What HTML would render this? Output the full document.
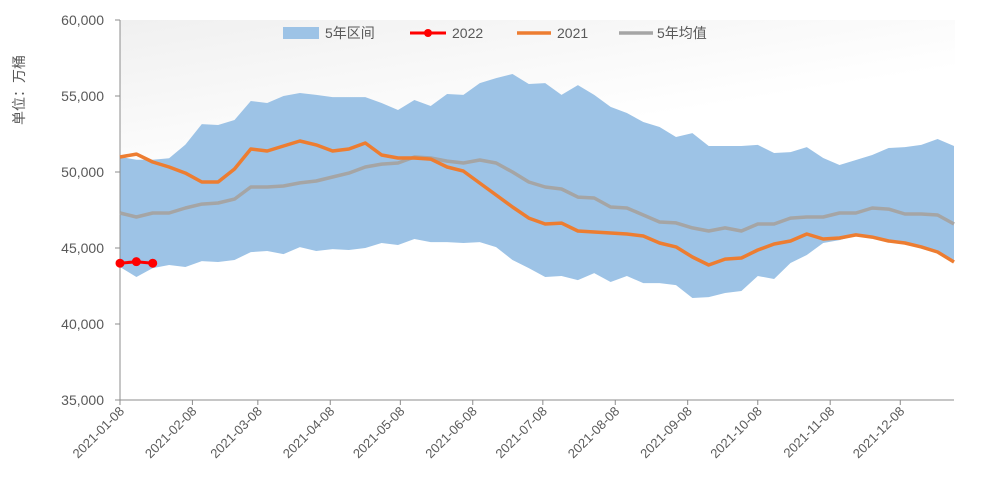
<!DOCTYPE html>
<html><head><meta charset="utf-8"><style>
body{margin:0;background:#fff;}
svg{display:block;font-family:"Liberation Sans","Noto Sans CJK SC",sans-serif;}
</style></head><body>
<svg id="chart" width="987" height="502" viewBox="0 0 987 502">
<defs><linearGradient id="bg" x1="0" y1="0" x2="0.6" y2="0.9"><stop offset="0" stop-color="#f0f0f0"/><stop offset="0.7" stop-color="#ffffff"/></linearGradient></defs>
<rect x="120" y="20" width="835" height="200" fill="url(#bg)"/>
<g id="plot"></g>
<g id="legend">
 <rect x="283" y="27" width="36" height="12" fill="#9dc3e6"/>
 <text x="325" y="38" font-size="14" fill="#595959">5年区间</text>
 <line x1="410" y1="33" x2="446" y2="33" stroke="#ff0000" stroke-width="3"/>
 <circle cx="428" cy="33" r="4" fill="#ff0000"/>
 <text x="452" y="38" font-size="14" fill="#595959">2022</text>
 <line x1="517" y1="33" x2="551" y2="33" stroke="#ed7d31" stroke-width="3.5"/>
 <text x="557" y="38" font-size="14" fill="#595959">2021</text>
 <line x1="619" y1="33" x2="653" y2="33" stroke="#a5a5a5" stroke-width="3.5"/>
 <text x="657" y="38" font-size="14" fill="#595959">5年均值</text>
</g>
<text transform="translate(24,90) rotate(-90)" text-anchor="middle" font-size="14" fill="#595959">单位：万桶</text>
</svg>
<script>
const upper=[51000,50800,50800,50900,51800,53150,53090,53420,54670,54540,55000,55200,55070,54930,54930,54930,54540,54080,54740,54340,55130,55070,55850,56180,56450,55790,55850,55070,55720,55070,54280,53880,53290,52960,52300,52560,51710,51710,51710,51780,51250,51310,51640,50920,50460,50790,51120,51580,51640,51780,52170,51710];
const lower=[43750,43090,43680,43880,43750,44140,44080,44210,44730,44800,44600,45060,44800,44930,44870,45000,45330,45200,45590,45390,45390,45330,45390,45060,44210,43680,43090,43160,42890,43350,42760,43160,42690,42690,42560,41710,41770,42040,42170,43160,42960,44010,44540,45330,45520,45800,45650,45400,45300,45000,44700,44050];
const y2021=[50990,51180,50660,50330,49930,49340,49340,50200,51510,51380,51710,52040,51780,51380,51510,51910,51120,50920,50920,50850,50330,50060,49270,48490,47700,46970,46580,46640,46120,46050,45990,45920,45790,45330,45070,44410,43880,44270,44340,44870,45260,45460,45920,45590,45660,45860,45720,45460,45330,45070,44740,44080];
const avg5=[47300,47040,47300,47300,47630,47890,47960,48220,49010,49010,49080,49280,49410,49670,49930,50330,50520,50590,50990,50920,50720,50590,50790,50590,50000,49340,49010,48880,48350,48290,47700,47630,47170,46710,46650,46320,46120,46320,46120,46580,46580,46970,47040,47040,47300,47300,47630,47560,47240,47240,47170,46580];
const y2022=[44000,44100,44000];
const yTicks=[35000,40000,45000,50000,55000,60000];
const yTickLabels=["35,000","40,000","45,000","50,000","55,000","60,000"];
const xTickDays=[0,31,59,90,120,151,181,212,243,273,304,334];
const xTickLabels=["2021-01-08","2021-02-08","2021-03-08","2021-04-08","2021-05-08","2021-06-08","2021-07-08","2021-08-08","2021-09-08","2021-10-08","2021-11-08","2021-12-08"];

const X0=120,X1=954,Y0=400,Y1=20,YMIN=35000,YMAX=60000,NPTS=52;
const xDay=d=>X0+d*(X1-X0)/((NPTS-1)*7);
const xIdx=i=>xDay(i*7);
const yv=v=>Y0-(v-YMIN)*(Y0-Y1)/(YMAX-YMIN);
const NS="http://www.w3.org/2000/svg";
const plot=document.getElementById('plot');
function mk(tag,attrs){const e=document.createElementNS(NS,tag);for(const k in attrs)e.setAttribute(k,attrs[k]);plot.appendChild(e);return e;}
const pts=a=>a.map((v,i)=>xIdx(i).toFixed(1)+','+yv(v).toFixed(1));

let band=mk('polygon',{points:pts(upper).concat(pts(lower).reverse()).join(' '),fill:'#9dc3e6'});



let ax=mk('line',{x1:X0,y1:Y1,x2:X0,y2:Y0,stroke:'#8c8c8c','stroke-width':1});


let bx=mk('line',{x1:X0,y1:Y0,x2:X1,y2:Y0,stroke:'#8c8c8c','stroke-width':1});



yTicks.forEach((v,i)=>{
 let t=mk('line',{x1:X0-5,y1:yv(v),x2:X0,y2:yv(v),stroke:'#8c8c8c'});
 
 
 let l=mk('text',{x:X0-16,y:yv(v)+5,'text-anchor':'end','font-size':14,fill:'#595959'});
 l.textContent=yTickLabels[i];
 
 
});
xTickDays.forEach((d,i)=>{
 const x=xDay(d);
 let t=mk('line',{x1:x,y1:Y0,x2:x,y2:Y0+5,stroke:'#8c8c8c'});
 
 
 let l=mk('text',{transform:`translate(${x+5},${Y0+12}) rotate(-45)`,'text-anchor':'end','font-size':13,fill:'#595959'});
 l.textContent=xTickLabels[i];
 
 
});

let ga=mk('polyline',{points:pts(avg5).join(' '),fill:'none',stroke:'#a5a5a5','stroke-width':3.5,'stroke-linejoin':'round'});


let o=mk('polyline',{points:pts(y2021).join(' '),fill:'none',stroke:'#ed7d31','stroke-width':3.5,'stroke-linejoin':'round'});


let r=mk('polyline',{points:pts(y2022).join(' '),fill:'none',stroke:'#ff0000','stroke-width':3});


y2022.forEach((v,i)=>{
 let c=mk('circle',{cx:xIdx(i),cy:yv(v),r:4.5,fill:'#ff0000'});
 
 
});
</script>
</body></html>
